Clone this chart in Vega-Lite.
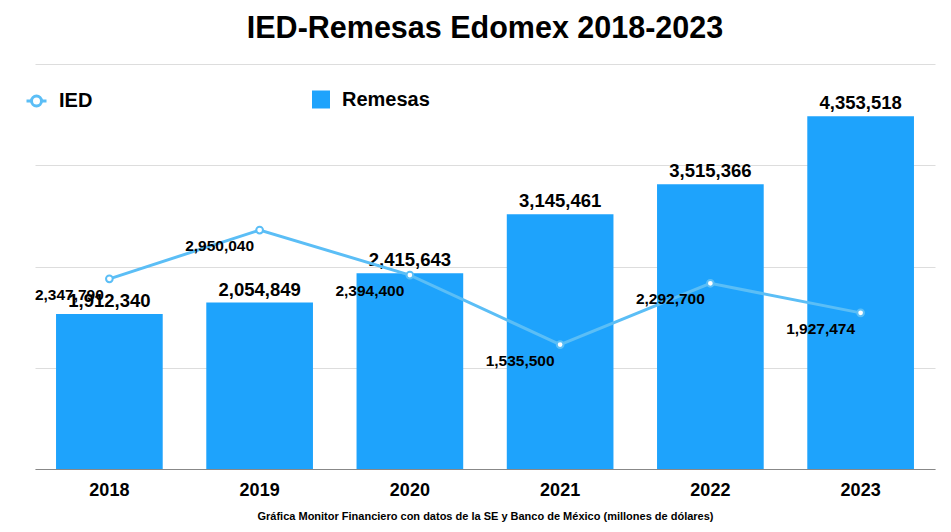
{
  "$schema": "https://vega.github.io/schema/vega-lite/v6.json",
  "autosize": {"type": "none"},
  "width": 900,
  "height": 405,
  "padding": {"left": 35, "top": 64, "right": 16, "bottom": 63},
  "background": "white",
  "config": {
    "font": "Liberation Sans, Arial, sans-serif",
    "view": {"stroke": null}
  },
  "title": {
    "text": "IED-Remesas Edomex 2018-2023",
    "fontSize": 30.5,
    "fontWeight": "bold",
    "color": "#000000",
    "anchor": "middle",
    "baseline": "alphabetic",
    "offset": 25,
    "dy": 29
  },
  "data": {
    "values": [
      {"year": "2018", "remesas": 1912340, "ied": 2347790},
      {"year": "2019", "remesas": 2054849, "ied": 2950040},
      {"year": "2020", "remesas": 2415643, "ied": 2394400},
      {"year": "2021", "remesas": 3145461, "ied": 1535500},
      {"year": "2022", "remesas": 3515366, "ied": 2292700},
      {"year": "2023", "remesas": 4353518, "ied": 1927474}
    ]
  },
  "encoding": {
    "x": {
      "field": "year",
      "type": "nominal",
      "scale": {"paddingInner": 0.29, "paddingOuter": 0.14},
      "axis": {
        "title": "Gráfica Monitor Financiero con datos de la SE y Banco de México (millones de dólares)",
        "titleFontSize": 11,
        "titleFontWeight": "bold",
        "titleColor": "#000000",
        "titlePadding": 11,
        "labelAngle": 0,
        "labelFontSize": 18,
        "labelFontWeight": "bold",
        "labelColor": "#000000",
        "labelPadding": 12,
        "ticks": false,
        "domainColor": "#888888",
        "domainWidth": 1,
        "grid": false
      }
    }
  },
  "layer": [
    {
      "mark": {"type": "bar"},
      "encoding": {
        "y": {
          "field": "remesas",
          "type": "quantitative",
          "scale": {"domain": [0, 5000000], "nice": false},
          "axis": {
            "title": null,
            "labels": false,
            "ticks": false,
            "domain": false,
            "grid": true,
            "gridColor": "#dddddd",
            "values": [0, 1250000, 2500000, 3750000, 5000000]
          }
        },
        "fill": {
          "datum": "Remesas",
          "type": "nominal",
          "scale": {"domain": ["Remesas"], "range": ["#1EA3FC"]},
          "legend": {
            "title": null,
            "orient": "none",
            "legendX": 276,
            "legendY": 25.5,
            "padding": 0,
            "symbolType": "square",
            "symbolSize": 324,
            "symbolStrokeWidth": 0,
            "labelFontSize": 20,
            "labelFontWeight": "bold",
            "labelColor": "#000000",
            "labelOffset": 11
          }
        }
      }
    },
    {
      "mark": {"type": "text", "baseline": "bottom", "dy": -3, "fontSize": 18.5, "fontWeight": "bold", "color": "#000000"},
      "encoding": {
        "y": {"field": "remesas", "type": "quantitative"},
        "text": {"field": "remesas", "type": "quantitative", "format": ","}
      }
    },
    {
      "mark": {"type": "line", "strokeWidth": 3},
      "encoding": {
        "y": {"field": "ied", "type": "quantitative"},
        "stroke": {
          "datum": "IED",
          "type": "nominal",
          "scale": {"domain": ["IED"], "range": ["#5BBEF6"]},
          "legend": {
            "title": null,
            "orient": "none",
            "legendX": -10,
            "legendY": 25.5,
            "padding": 0,
            "symbolType": "M-1,0L-0.5,0M0.5,0A0.5,0.5,0,1,1,-0.5,0A0.5,0.5,0,1,1,0.5,0M0.5,0L1,0",
            "symbolSize": 400,
            "symbolStrokeWidth": 3,
            "symbolFillColor": "white",
            "labelFontSize": 20,
            "labelFontWeight": "bold",
            "labelColor": "#000000",
            "labelOffset": 11
          }
        }
      }
    },
    {
      "mark": {"type": "point", "filled": true, "fill": "white", "stroke": "#5BBEF6", "strokeWidth": 2, "size": 45, "opacity": 1},
      "encoding": {
        "y": {"field": "ied", "type": "quantitative"}
      }
    },
    {
      "mark": {"type": "text", "baseline": "middle", "align": "center", "dx": -40, "dy": 16, "fontSize": 15.5, "fontWeight": "bold", "color": "#000000"},
      "encoding": {
        "y": {"field": "ied", "type": "quantitative"},
        "text": {"field": "ied", "type": "quantitative", "format": ","}
      }
    }
  ],
  "resolve": {"legend": {"fill": "independent", "stroke": "independent"}}
}
